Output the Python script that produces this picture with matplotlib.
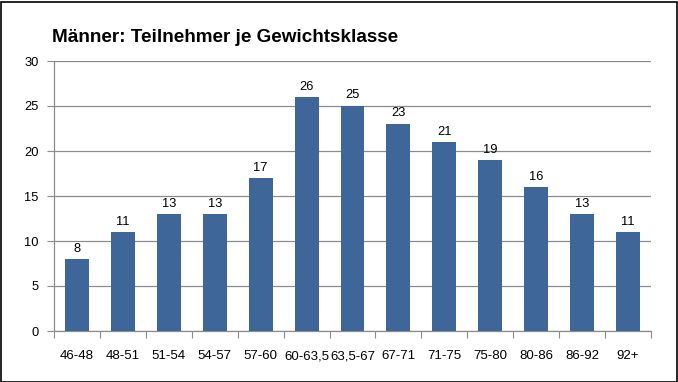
import matplotlib
matplotlib.use("Agg")
import matplotlib.pyplot as plt
from matplotlib.patches import Rectangle

categories = ["46-48", "48-51", "51-54", "54-57", "57-60", "60-63,5", "63,5-67",
              "67-71", "71-75", "75-80", "80-86", "86-92", "92+"]
values = [8, 11, 13, 13, 17, 26, 25, 23, 21, 19, 16, 13, 11]
yticks = [0, 5, 10, 15, 20, 25, 30]

plt.rcParams['font.family'] = ['Liberation Sans', 'DejaVu Sans']

fig = plt.figure(figsize=(6.78, 3.82), dpi=100)
ax = fig.add_axes([54/678, 1-331/382, (651-54)/678, (331-61)/382])

x = list(range(len(categories)))
bars = ax.bar(x, values, width=0.52, color="#3F6698", zorder=3)
for xi, v in zip(x, values):
    ax.text(xi, v + 0.5, str(v), ha="center", va="bottom", fontsize=9.3, color="#000000")

ax.set_xlim(-0.5, len(categories) - 0.5)
ax.set_ylim(0, 30)
ax.set_yticks(yticks)
ax.set_yticklabels([str(t) for t in yticks], fontsize=9.3)
ax.yaxis.grid(True, color="#8C8C8C", linewidth=0.9, zorder=0)
ax.set_xticks([i - 0.5 for i in range(len(categories) + 1)])
ax.set_xticklabels([])
ax.set_xticks(x, minor=True)
ax.set_xticklabels(categories, minor=True, fontsize=9.5)
ax.tick_params(axis="x", which="minor", length=0, pad=14)
ax.tick_params(axis="x", which="major", length=5, color="#8C8C8C", direction="out")
ax.tick_params(axis="y", length=5, color="#8C8C8C", direction="out", pad=6)

for s in ["top", "right"]:
    ax.spines[s].set_visible(False)
for s in ["left", "bottom"]:
    ax.spines[s].set_color("#8C8C8C")
    ax.spines[s].set_linewidth(0.9)

fig.text(52/678, 1-37/382, "Männer: Teilnehmer je Gewichtsklasse", fontsize=13.6,
         fontweight="bold", ha="left", va="center")

fig.patches.append(Rectangle((0.5/678, 0.5/382), 676/678, 380/382, transform=fig.transFigure,
                             fill=False, edgecolor="black", linewidth=1.2))

fig.savefig("out.png", dpi=100)
